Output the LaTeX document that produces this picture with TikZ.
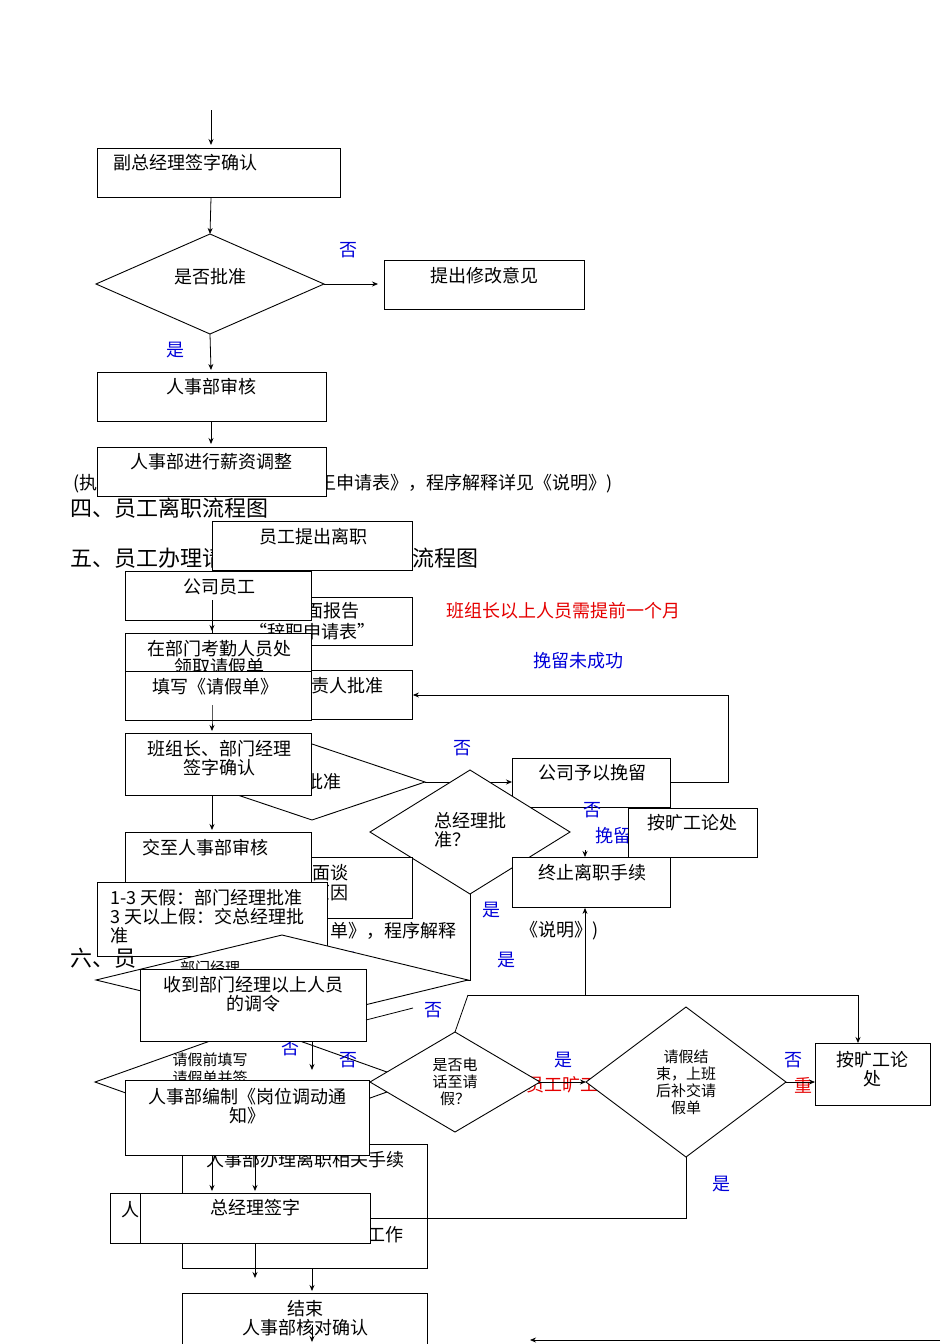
\documentclass[tikz,border=0pt]{standalone}
\usepackage{fontspec}
\setmainfont{Noto Sans CJK SC}
\usetikzlibrary{arrows.meta}
\tikzset{
 bx/.style={draw,fill=white,line width=0.9pt,inner sep=0pt,anchor=north west},
 dm/.style={draw,fill=white,line width=0.9pt},
 tx/.style={font=\fontsize{18}{19}\selectfont,inner sep=0pt,align=center},
 sm/.style={font=\fontsize{15}{17}\selectfont,inner sep=0pt,align=center},
 hd/.style={font=\fontsize{22}{24}\selectfont,inner sep=0pt,anchor=west},
 yes/.style={tx,text=blue!85!black},
 red/.style={tx,text=red!90!black},
 ar/.style={-{Stealth[length=6pt,width=5pt]},line width=0.8pt},
 ln/.style={line width=0.8pt}
}
\newcommand\bx[5]{\node[bx,minimum width={(#4-#2)*1pt},minimum height={(#5-#3)*1pt}] (#1) at (#2,#3) {};}
\newcommand\dmd[5]{\path[dm] (#2-#4,#3) coordinate(#1w) -- (#2,#3-#5) coordinate(#1n) -- (#2+#4,#3) coordinate(#1e) -- (#2,#3+#5) coordinate(#1s) -- cycle; \coordinate (#1) at (#2,#3);}
\begin{document}
\begin{tikzpicture}[x=1pt,y=-1pt]
\useasboundingbox[fill=white] (0,0) rectangle (950,1344);
% ---- top section
\coordinate (t0) at (211,110);
\bx{a1}{97}{148}{340}{197}\node[tx] at (185,163) {副总经理签字确认};
\draw[ar] (t0) -- (211,145);
\dmd{d1}{210}{284}{114}{50}\node[tx] at (210,277) {是否批准};
\draw[ar] (a1.south -| t0) -- (d1n);
\bx{a2}{384}{260}{584}{309}\node[tx] at (484,276) {提出修改意见};
\draw[ar] (d1e) -- (378,284); \node[yes] at (348,250) {否};
\bx{a3}{97}{372}{326}{421}\node[tx] at (211,387) {人事部审核};
\draw[ar] (d1s) -- (211,370); \node[yes] at (175,350) {是};
\draw[ar] (a3.south -| t0) -- (211,444);
\node[tx,anchor=west] at (73,484) {(执};
\node[tx,anchor=west] at (318,484) {王申请表》，程序解释详见《说明》)};
\bx{a4}{97}{447}{326}{496}\node[tx] at (211,462) {人事部进行薪资调整};
\node[hd] at (70,508) {四、员工离职流程图};
\node[hd] at (70,558) {五、员工办理请假};
\node[hd] at (412,558) {流程图};
% ---- section 4 (resignation)
\bx{b1}{212}{521}{412}{570}\node[tx] at (313,537) {员工提出离职};
\bx{b2}{212}{597}{412}{645}\node[tx] at (305,611) {提交书面报告};\node[tx] at (312,632) {“辞职申请表”};
\node[red] at (563,611) {班组长以上人员需提前一个月};
\node[yes] at (578,661) {挽留未成功};
\bx{b3}{212}{670}{412}{719}\node[tx] at (320,686) {部门负责人批准};
\dmd{d2}{312}{782}{113}{38}\node[tx] at (305,782) {是否批准};
\bx{b4}{512}{758}{670}{807}\node[tx] at (592,773) {公司予以挽留};
\draw[ar] (d2e) -- (b4.west |- d2e); \node[yes] at (462,748) {否};
\draw[ar] (670,782) -- (728,782) -- (728,695) -- (b3.east |- 0,695);
\dmd{d3}{470}{832}{100}{62}\node[tx,align=left] at (470,830) {总经理批\\准？};
\node[yes] at (592,810) {否};
\node[yes] at (613,836) {挽留};
\bx{b5}{628}{808}{757}{857}\node[tx] at (692,823) {按旷工论处};
\bx{b6}{512}{857}{670}{907}\node[tx] at (592,873) {终止离职手续};
\draw[ar] (585,850) -- (585,857);
\bx{b7}{212}{857}{412}{918}\node[tx] at (312,873) {离职面谈};\node[tx] at (312,893) {了解原因};
\node[tx,anchor=west] at (330,931) {单》，程序解释};\node[tx,anchor=west] at (520,931) {《说明》)};
\node[yes] at (491,910) {是};\node[yes] at (506,960) {是};\node[yes] at (348,960) {是};
\draw[ln] (d3s) -- (470,980) -- (365,980);
\draw[ln] (468,995) -- (858,995);
\draw[ar] (585,995) -- (b6.south -| 585,0);
% ---- section 5 (leave)
\bx{c1}{125}{571}{311}{620}\node[tx] at (219,587) {公司员工};
\bx{c2}{125}{633}{311}{720}\node[tx] at (219,649) {在部门考勤人员处};\node[tx] at (219,667) {领取请假单};
\bx{c3}{125}{671}{311}{720}\node[tx] at (215,687) {填写《请假单》};
\draw[ar] (212,600) -- (212,631);
\draw[ar] (212,705) -- (c3.south -| 212,0) -- (212,731);
\bx{c4}{125}{733}{311}{795}\node[tx] at (219,749) {班组长、部门经理};\node[tx] at (219,768) {签字确认};
\bx{c5}{125}{832}{311}{882}\node[tx] at (205,848) {交至人事部审核};
\draw[ar] (c4.south -| 212,0) -- (212,830);
\bx{c6}{97}{882}{327}{956}\node[tx,align=left,anchor=north west] at (110,889) {1-3 天假：部门经理批准\\3 天以上假：交总经理批\\准};
\node[hd] at (70,958) {六、员};
\dmd{d4}{282}{980}{186}{45}\node[sm] at (210,968) {部门经理};
\dmd{d5}{255}{1082}{160}{57}\node[sm] at (210,1060) {请假前填写};\node[sm] at (210,1078) {请假单并签};
\node[red] at (562,1085) {员工旷工};
\dmd{d6}{455}{1082}{85}{50}\node[sm] at (455,1082) {是否电\\话至请\\假？};
\dmd{d7}{686}{1082}{100}{75}\node[sm] at (686,1082) {请假结\\束，上班\\后补交请\\假单};
\draw[ar] (d6e) -- (d7w); \node[yes] at (563,1060) {是};
\node[red] at (803,1085) {重};
\bx{c7}{815}{1043}{930}{1105}\node[tx] at (872,1060) {按旷工论};\node[tx] at (872,1079) {处};
\draw[ar] (d7e) -- (c7.west |- d7e); \node[yes] at (793,1060) {否};
\draw[ar] (858,995) -- (c7.north -| 858,0);
\draw[ln] (d6n) -- (468,995);
\node[yes] at (721,1184) {是};
\node[yes] at (433,1010) {否};\node[yes] at (290,1048) {否};\node[yes] at (348,1060) {否};
% ---- section 6 + lower
\bx{e1}{140}{969}{366}{1041}\node[tx] at (253,985) {收到部门经理以上人员};\node[tx] at (253,1004) {的调令};
\draw[ln] (366,1020) -- (413,1008);
\draw[ar] (312,1041) -- (312,1070);
\bx{f1}{182}{1144}{427}{1268}\node[tx] at (305,1160) {人事部办理离职相关手续};
\bx{e2}{125}{1080}{369}{1155}\node[tx] at (247,1097) {人事部编制《岗位调动通};\node[tx] at (247,1116) {知》};
\draw[ar] (212,1155) -- (212,1191);\draw[ar] (255,1155) -- (255,1191);
\bx{f2}{110}{1193}{300}{1243}\node[tx] at (130,1210) {人};
\node[tx] at (385,1235) {工作};
\bx{e3}{140}{1193}{370}{1243}\node[tx] at (255,1208) {总经理签字};
\draw[ln] (d7s) -- (686,1218) -- (e3.east |- 0,1218);
\draw[ar] (e3.south -| 255,0) -- (255,1278);
\draw[ar] (f1.south -| 312,0) -- (312,1291);
\bx{g1}{182}{1293}{427}{1344}\node[tx] at (305,1309) {结束};\node[tx] at (305,1328) {人事部核对确认};
\draw[ar] (312,1325) -- (312,1342);
\coordinate (r0) at (940,1340);
\draw[ar] (r0) -- (530,1340);
\end{tikzpicture}
\end{document}
